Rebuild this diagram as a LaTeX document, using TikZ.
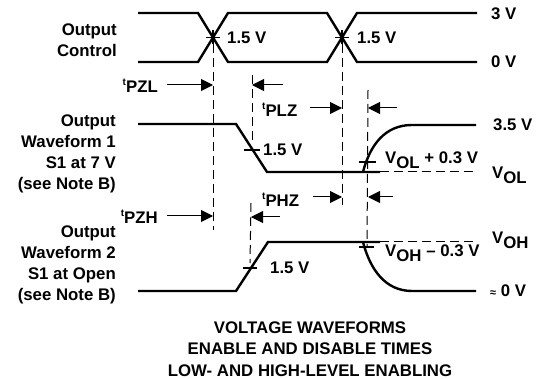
\documentclass[tikz,border=0pt]{standalone}
\usepackage{fontspec}
\setmainfont{Liberation Sans}
\usetikzlibrary{arrows.meta}
\begin{document}
\begin{tikzpicture}[x=1pt,y=-1pt,
  wave/.style={line width=2.4pt},
  guide/.style={line width=1pt, dash pattern=on 9pt off 5pt},
  reflevel/.style={line width=1pt, dash pattern=on 9pt off 5pt},
  tickmark/.style={line width=1.3pt},
  meas/.style={line width=1pt, -{Triangle[length=12pt,width=12pt]}},
  lbl/.style={font=\fontsize{16.8}{21}\selectfont\bfseries, inner sep=0pt},
  sidelbl/.style={lbl, align=right, anchor=east},
  vlbl/.style={lbl, anchor=west},
  ttl/.style={font=\fontsize{16.8}{21.5}\selectfont\bfseries, inner sep=0pt, align=center}
]
\useasboundingbox (0,0) rectangle (543,379);
\newcommand{\tlab}[1]{\raisebox{7pt}{\fontsize{10}{10}\selectfont t}#1}
\newcommand{\vsub}[1]{V\raisebox{-5pt}{#1}}

% ---------------- left labels
\node[sidelbl] (lctrl) at (117,40) {Output\\Control};
\node[sidelbl] (lw1) at (116,154) {Output\\Waveform 1\\S1 at 7 V\\(see Note B)};
\node[sidelbl] (lw2) at (116,265) {Output\\Waveform 2\\S1 at Open\\(see Note B)};

% ---------------- output control
\draw[wave] (138,13) -- (198,13) -- (228,62) -- (327,62) -- (357,13) -- (477,13);
\draw[wave] (138,62) -- (198,62) -- (228,13) -- (327,13) -- (357,62) -- (477,62);
\coordinate (xa) at (213,37.5);
\coordinate (xb) at (342,37.5);
\draw[tickmark] ([xshift=-7pt]xa) -- ([xshift=7pt]xa) ([yshift=-7pt]xa) -- ([yshift=7pt]xa);
\draw[tickmark] ([xshift=-7pt]xb) -- ([xshift=7pt]xb) ([yshift=-7pt]xb) -- ([yshift=7pt]xb);
\node[vlbl] (c15a) at (227,38) {1.5 V};
\node[vlbl] (c15b) at (357,38) {1.5 V};
\node[vlbl] (v3) at (491,14) {3 V};
\node[vlbl] (v0) at (491,62) {0 V};

% ---------------- waveform 1
\draw[wave] (138,124) -- (236,124) -- (267,172) -- (380,172);
\draw[wave] (363,172) .. controls (370,145) and (385,125) .. (412,125) -- (476,125);
\draw[reflevel] (380,172) -- (476,172);
\coordinate (w1x) at (252,150);
\coordinate (w1t) at (367,162);
\draw[tickmark] ([xshift=-8pt]w1x) -- ([xshift=8pt]w1x);
\draw[tickmark] ([xshift=-8pt]w1t) -- ([xshift=9pt]w1t);
\node[vlbl] (w115) at (263,150) {1.5 V};
\node[vlbl] (w1r) at (385,160) {\vsub{OL} + 0.3 V};
\node[vlbl] (v35) at (493,125) {3.5 V};
\node[vlbl] (vol) at (492,175) {\vsub{OL}};

% ---------------- waveform 2
\draw[wave] (138,291) -- (236,291) -- (268,242) -- (380,242);
\draw[wave] (363,242) .. controls (370,269) and (385,291) .. (412,291) -- (476,291);
\draw[reflevel] (380,242) -- (476,242);
\coordinate (w2x) at (250,268);
\coordinate (w2t) at (367,247);
\draw[tickmark] ([xshift=-7pt]w2x) -- ([xshift=7pt]w2x);
\draw[tickmark] ([xshift=-8pt]w2t) -- ([xshift=7pt]w2t);
\node[vlbl] (w215) at (270,268) {1.5 V};
\node[vlbl] (w2r) at (385,253) {\vsub{OH} -- 0.3 V};
\node[vlbl] (voh) at (492,240) {\vsub{OH}};
\node[vlbl] (vz) at (490,291) {{\fontsize{11}{11}\selectfont ≈} 0 V};

% ---------------- guide lines
\draw[guide] ([yshift=7pt]xa) -- (213,230);
\draw[guide] ([yshift=7pt]xb) -- (342,205);
\draw[guide] (252,75) -- ([yshift=6pt]w1x);
\draw[guide] (251,203) -- ([yshift=5pt]w2x);
\draw[guide] (368,90) -- (w2t);

% ---------------- measurement arrows
\node[lbl, anchor=east] (tpzl) at (158,86) {\tlab{PZL}};
\coordinate (a1s) at (167,85); \coordinate (a1e) at (213,85);
\draw[meas] (a1s) -- (a1e);
\coordinate (a2s) at (283,85); \coordinate (a2e) at (252,85);
\draw[meas] (a2s) -- (a2e);

\node[lbl, anchor=west] (tplz) at (262,110) {\tlab{PLZ}};
\coordinate (b1s) at (310,108); \coordinate (b1e) at (342,108);
\draw[meas] (b1s) -- (b1e);
\coordinate (b2s) at (397,108); \coordinate (b2e) at (368,108);
\draw[meas] (b2s) -- (b2e);

\node[lbl, anchor=west] (tphz) at (262,200) {\tlab{PHZ}};
\coordinate (c1s) at (313,197); \coordinate (c1e) at (342,197);
\draw[meas] (c1s) -- (c1e);
\coordinate (c2s) at (393,197); \coordinate (c2e) at (368,197);
\draw[meas] (c2s) -- (c2e);

\node[lbl, anchor=east] (tpzh) at (158,217) {\tlab{PZH}};
\coordinate (d1s) at (167,216); \coordinate (d1e) at (213,216);
\draw[meas] (d1s) -- (d1e);
\coordinate (d2s) at (280,217); \coordinate (d2e) at (251,217);
\draw[meas] (d2s) -- (d2e);

% ---------------- title
\node[ttl] (title) at (310,349) {VOLTAGE WAVEFORMS\\ENABLE AND DISABLE TIMES\\LOW- AND HIGH-LEVEL ENABLING};
\end{tikzpicture}
\end{document}
